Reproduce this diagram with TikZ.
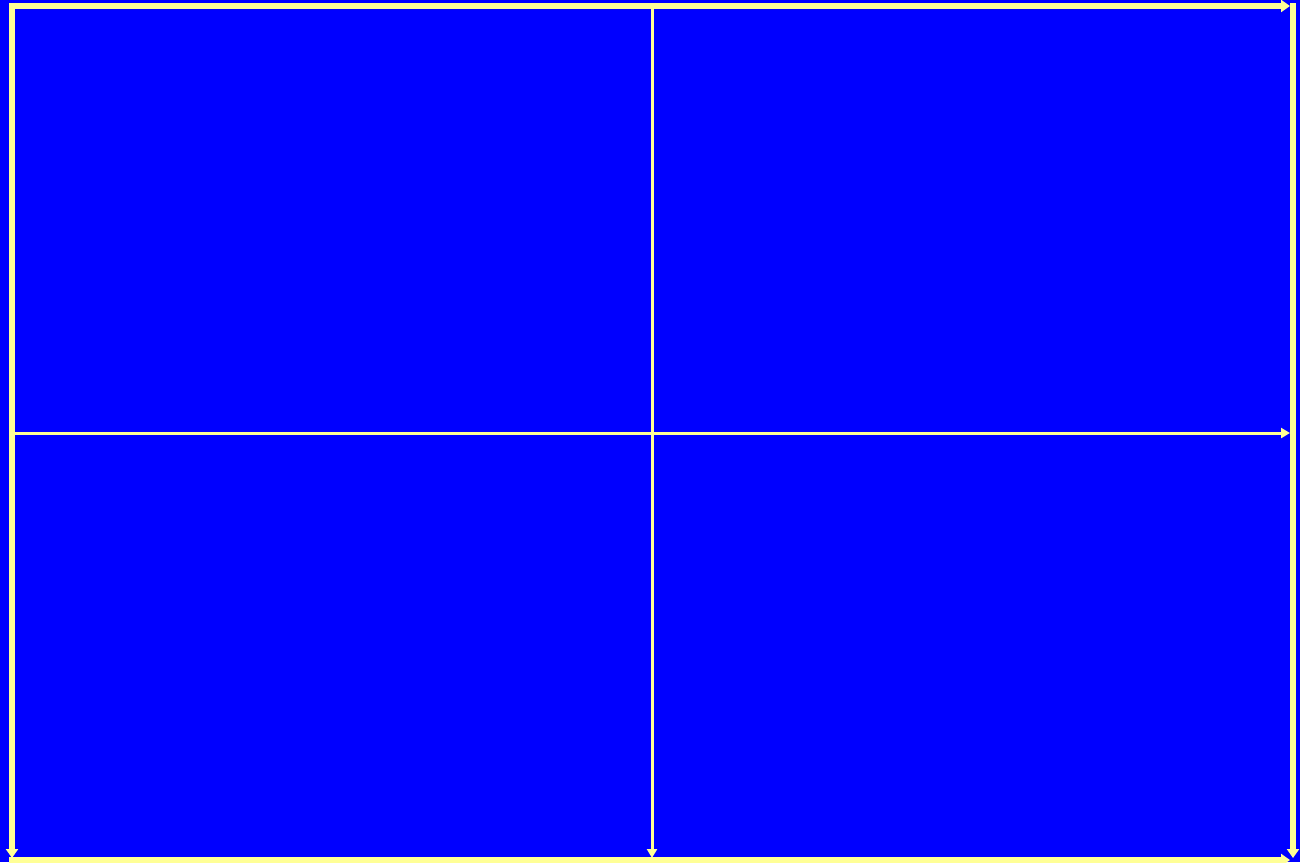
\documentclass[tikz,border=0pt]{standalone}
\usetikzlibrary{arrows.meta}
\definecolor{bg}{RGB}{0,0,255}
\definecolor{ln}{RGB}{255,255,150}
\begin{document}
\begin{tikzpicture}[x=1pt,y=-1pt,
  thickax/.style={draw=ln,line width=6pt,-{Triangle[length=9pt,width=12pt]}},
  thinax/.style={draw=ln,line width=3pt,-{Triangle[length=9pt,width=10pt]}}]
\fill[bg] (0,0) rectangle (1300,862);
\useasboundingbox (0,0) rectangle (1300,862);
\coordinate (TL) at (12,6);
\coordinate (TR) at (1290,6);
\coordinate (RT) at (1293,3);
\coordinate (RB) at (1293,858);
\coordinate (LB) at (12,858);
\coordinate (BL) at (9,860);
\coordinate (BR) at (1290,860);
\coordinate (ML) at (15,433);
\coordinate (MR) at (1290,433);
\coordinate (MT) at (652,9);
\coordinate (MB) at (652,858);
\draw[thickax] (TL) ++(-3,0) -- (TR);
\draw[thickax] (TL) ++(0,-3) -- (LB);
\draw[thickax] (RT) -- (RB);
\draw[thickax] (BL) -- (BR);
\draw[thinax] (ML) -- (MR);
\draw[thinax] (MT) -- (MB);
\end{tikzpicture}
\end{document}
